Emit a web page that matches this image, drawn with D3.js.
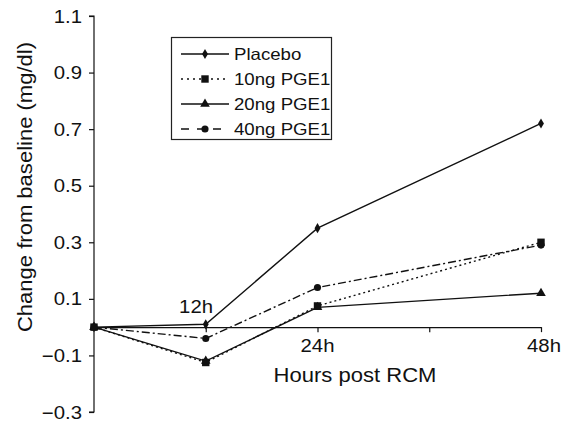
<!DOCTYPE html>
<html><head><meta charset="utf-8">
<script src="https://cdn.jsdelivr.net/npm/d3@7"></script>
<style>body{margin:0;background:#fff}text{font-family:Arial,"Liberation Sans",Helvetica,sans-serif;fill:#111}</style>
</head><body>
<script>
const hours = [0, 12, 24, 48];
const seriesNames = ["Placebo", "10ng PGE1", "20ng PGE1", "40ng PGE1"];
const placebo = [0, 0.01, 0.35, 0.72];
const pge10 = [0, -0.125, 0.075, 0.30];
const pge20 = [0, -0.12, 0.07, 0.12];
const pge40 = [0, -0.04, 0.14, 0.29];
const yTicks = [-0.3, -0.1, 0.1, 0.3, 0.5, 0.7, 0.9, 1.1];
const xTicks = [12, 24, 36, 48];
const xTickLabels = {12: "12h", 24: "24h", 36: "", 48: "48h"};

const W = 566, H = 421, SX = 1.13;
const svg = d3.select("body").append("svg").attr("width", W).attr("height", H);
const x = d3.scaleLinear().domain([0, 48]).range([94, 541]);
const y = d3.scaleLinear().domain([-0.3, 1.1]).range([412, 16]);

function txt(g, tx, ty, s, size, anchor, rot) {
  return g.append("text")
    .attr("transform", `translate(${tx},${ty})` + (rot ? ` rotate(${rot})` : "") + ` scale(${SX},1)`)
    .attr("text-anchor", anchor).attr("font-size", size).text(s);
}

// Y axis
const yAxis = d3.axisLeft(y).tickValues(yTicks).tickSize(5).tickFormat("");
const gy = svg.append("g").attr("transform", `translate(${x(0)},0)`).call(yAxis);
gy.selectAll("path,line").attr("stroke", "#111").attr("stroke-width", 1.2);
gy.select(".domain").attr("d", `M-5,${y(1.1)}H0V${y(-0.3)}H-5`);
yTicks.forEach(v => {
  const lab = (v < 0 ? "\u2212" : "") + Math.abs(v).toFixed(1);
  txt(svg, 82, y(v) + 6.5, lab, 18, "end");
});

// X axis at y=0
const xAxis = d3.axisBottom(x).tickValues(xTicks).tickSize(5).tickSizeOuter(0).tickFormat("");
const gx = svg.append("g").attr("transform", `translate(0,${y(0)})`).call(xAxis);
gx.selectAll("path,line").attr("stroke", "#111").attr("stroke-width", 1.2);
txt(svg, 213, 313, xTickLabels[12], 18, "end");
txt(svg, x(24), 352, xTickLabels[24], 18, "middle");
txt(svg, x(48) + 3, 352, xTickLabels[48], 18, "middle");

// Titles
txt(svg, 355, 382, "Hours post RCM", 19.5, "middle");
txt(svg, 32, 187, "Change from baseline (mg/dl)", 19.5, "middle", -90);

const series = [
  {name: seriesNames[0], vals: placebo, dash: null, marker: "diamond"},
  {name: seriesNames[1], vals: pge10, dash: "2,3", marker: "square"},
  {name: seriesNames[2], vals: pge20, dash: null, marker: "triangle"},
  {name: seriesNames[3], vals: pge40, dash: "8,3,2,3", marker: "circle"}
];
const symType = {diamond: d3.symbolDiamond, square: d3.symbolSquare, triangle: d3.symbolTriangle, circle: d3.symbolCircle};
const symSize = {diamond: 30, square: 55, triangle: 40, circle: 40};

const line = d3.line().x((d, i) => x(hours[i])).y(d => y(d));
series.forEach(s => {
  svg.append("path").attr("d", line(s.vals)).attr("fill", "none")
    .attr("stroke", "#111").attr("stroke-width", 1.4)
    .attr("stroke-dasharray", s.dash);
  s.vals.forEach((v, i) => {
    svg.append("path").attr("d", d3.symbol(symType[s.marker], symSize[s.marker])())
      .attr("transform", `translate(${x(hours[i])},${y(v)})`).attr("fill", "#111");
  });
});

// Legend
const lg = svg.append("g");
lg.append("rect").attr("x", 171.5).attr("y", 37.5).attr("width", 160).attr("height", 102)
  .attr("fill", "#fff").attr("stroke", "#222").attr("stroke-width", 1.2);
series.forEach((s, i) => {
  const cy = 54 + i * 25;
  lg.append("line").attr("x1", 181).attr("x2", 229).attr("y1", cy).attr("y2", cy)
    .attr("stroke", "#111").attr("stroke-width", 1.4).attr("stroke-dasharray", s.dash ? (s.marker === "circle" ? "8,8" : "2,4") : null);
  lg.append("path").attr("d", d3.symbol(symType[s.marker], symSize[s.marker])())
    .attr("transform", `translate(205,${cy})`).attr("fill", "#111");
  txt(lg, 234, cy + 6, s.name, 16.5, "start");
});
</script>
</body></html>
